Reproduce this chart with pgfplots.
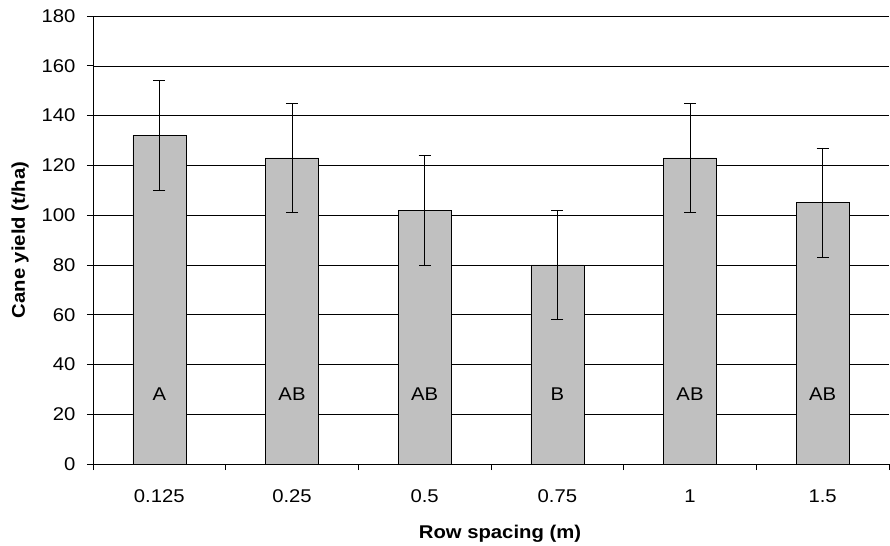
\documentclass[border=0pt]{standalone}
\usepackage{pgfplots}
\pgfplotsset{compat=1.18}
\usepackage{fontspec}
\setmainfont[FakeStretch=1.1]{Liberation Sans}
\definecolor{barfill}{RGB}{192,192,192}
\newcommand{\ticksize}{\fontsize{18.5}{21}\selectfont}

\begin{document}
\begin{tikzpicture}
\begin{axis}[
  scale only axis,
  width=796bp, height=448bp,
  xmin=-0.5, xmax=5.5,
  ymin=0, ymax=180,
  ytick={0,20,...,180},
  xtick={0,1,2,3,4,5},
  xticklabels={0.125,0.25,0.5,0.75,1,1.5},
  minor xtick={-0.5,0.5,1.5,2.5,3.5,4.5,5.5},
  major x tick style={draw=none},
  minor x tick style={black, line width=0.6pt},
  tick align=outside,
  minor tick length=6bp,
  major tick length=6bp,
  y tick style={black, line width=0.6pt},
  axis x line*=bottom,
  axis y line*=left,
  axis line style={-, black, line width=0.7pt},
  ymajorgrids,
  grid style={black, line width=0.5pt},
  /pgf/number format/assume math mode=true,
  tick label style={font=\ticksize},
  xticklabel style={yshift=-16.5bp},
  yticklabel style={xshift=-8bp},
  xlabel={\textbf{Row spacing (m)}},
  ylabel={\textbf{Cane yield (t/ha)}},
  label style={font=\fontsize{18.5}{21}\selectfont},
  xlabel style={yshift=-15bp, xshift=9bp},
  ylabel style={yshift=6bp},
  clip=false,
]
\addplot[ybar, bar width=0.4, fill=barfill, draw=black, line width=0.6pt,
  error bars/.cd, y dir=both, y explicit,
  error bar style={black, line width=0.6pt},
  error mark options={rotate=90, mark size=6bp, black, line width=0.6pt}]
  table[x=x, y=y, y error=e] {
  x y   e
  0 132 22
  1 123 22
  2 102 22
  3 80  22
  4 123 22
  5 105 22
};
\node[font=\ticksize] at (axis cs:0,28) {A};
\node[font=\ticksize] at (axis cs:1,28) {AB};
\node[font=\ticksize] at (axis cs:2,28) {AB};
\node[font=\ticksize] at (axis cs:3,28) {B};
\node[font=\ticksize] at (axis cs:4,28) {AB};
\node[font=\ticksize] at (axis cs:5,28) {AB};
\end{axis}
\useasboundingbox ([shift={(-93bp,-80bp)}]current axis.south west) rectangle ([shift={(1bp,16bp)}]current axis.north east);
\end{tikzpicture}
\end{document}
